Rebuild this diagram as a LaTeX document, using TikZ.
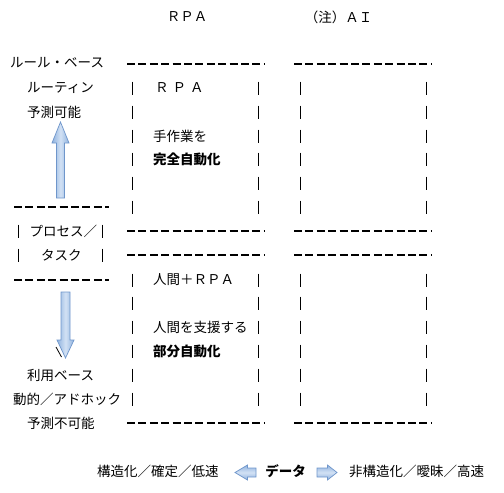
\documentclass[tikz,border=0pt]{standalone}
\usepackage{fontspec}
\newfontfamily\jp{Noto Sans CJK JP}
\usetikzlibrary{shapes.arrows}
\definecolor{arrowdraw}{HTML}{6F96CB}
\definecolor{arrowlight}{HTML}{D2E1F4}
\definecolor{arrowdark}{HTML}{8FB2DF}
\begin{document}
\begin{tikzpicture}[x=1pt,y=-1pt,
  font=\jp\fontsize{13.5pt}{14pt}\selectfont,
  txt/.style={anchor=west,inner sep=0pt},
  ctr/.style={inner sep=0pt},
  dashrow/.style={line width=1.1pt,dash pattern=on 8pt off 3.4pt},
  barline/.style={line width=0.9pt},
  vblock/.style={draw=arrowdraw,line width=0.7pt,left color=arrowdark,right color=arrowdark,middle color=arrowlight},
  hblock/.style={draw=arrowdraw,line width=0.7pt,top color=arrowdark,bottom color=arrowdark,middle color=arrowlight}]
\useasboundingbox (0,0) rectangle (504,493);
% titles
\node[ctr] (t1) at (187,17) {ＲＰＡ};
\node[ctr] (t2) at (338.5,17) {（注）ＡＩ};
% left column
\node[txt] (l0) at (10,63) {ルール・ベース};
\node[txt] (l1) at (27,88) {ルーティン};
\node[txt] (l2) at (27,112) {予測可能};
\node[ctr] (l7) at (63.5,231) {プロセス／};
\node[ctr] (l8) at (61.5,255) {タスク};
\node[txt] (l13) at (27,375) {利用ベース};
\node[txt] (l14) at (13,399) {動的／アドホック};
\node[txt] (l15) at (27,423) {予測不可能};
% box texts
\node[txt] (b1) at (155,88) {Ｒ\hspace{4pt}Ｐ\hspace{4pt}Ａ};
\node[txt] (b3) at (153,136) {手作業を};
\node[txt] (b4) at (153,159) {\bfseries 完全自動化};
\node[txt] (b9) at (153,280) {人間＋ＲＰＡ};
\node[txt] (b11) at (153,327) {人間を支援する};
\node[txt] (b12) at (153,351) {\bfseries 部分自動化};
% bottom row
\node[txt] (d1) at (97,471) {構造化／確定／低速};
\node[ctr] (d2) at (285.5,471) {\bfseries データ};
\node[txt] (d3) at (349,471) {非構造化／曖昧／高速};
% dashed rows
\foreach \y in {64,231,255,423}{
  \draw[dashrow] (127,\y) -- (264,\y);
  \draw[dashrow] (294,\y) -- (431,\y);
}
\foreach \y in {207,280}{
  \draw[dashrow] (14,\y) -- (109,\y);
}
% vertical bars
\foreach \y in {88,112,136,159,183,207,280,303,327,351,375,399}{
  \foreach \x in {132,258,300,426}{
    \draw[barline] (\x,\y-6.5) -- (\x,\y+6.5);
  }
}
\foreach \y in {231,255}{
  \foreach \x in {18,102}{
    \draw[barline] (\x,\y-6.5) -- (\x,\y+6.5);
  }
}
% small mark under the down arrow
\draw[line width=0.8pt] (56,347) -- (61.5,357);
% block arrows
\path[vblock] (60.5,122) -- (69,143) -- (64.5,143) -- (64.5,198) -- (56.5,198) -- (56.5,143) -- (52,143) -- cycle;
\path[vblock] (61,292) -- (70,292) -- (70,340) -- (74,340) -- (65.5,358) -- (57,340) -- (61,340) -- cycle;
\path[hblock] (235,472.5) -- (247.5,465) -- (247.5,468) -- (256,468) -- (256,477) -- (247.5,477) -- (247.5,480) -- cycle;
\path[hblock] (337,472.5) -- (327.5,465) -- (327.5,468) -- (317,468) -- (317,477) -- (327.5,477) -- (327.5,480) -- cycle;
\end{tikzpicture}
\end{document}
